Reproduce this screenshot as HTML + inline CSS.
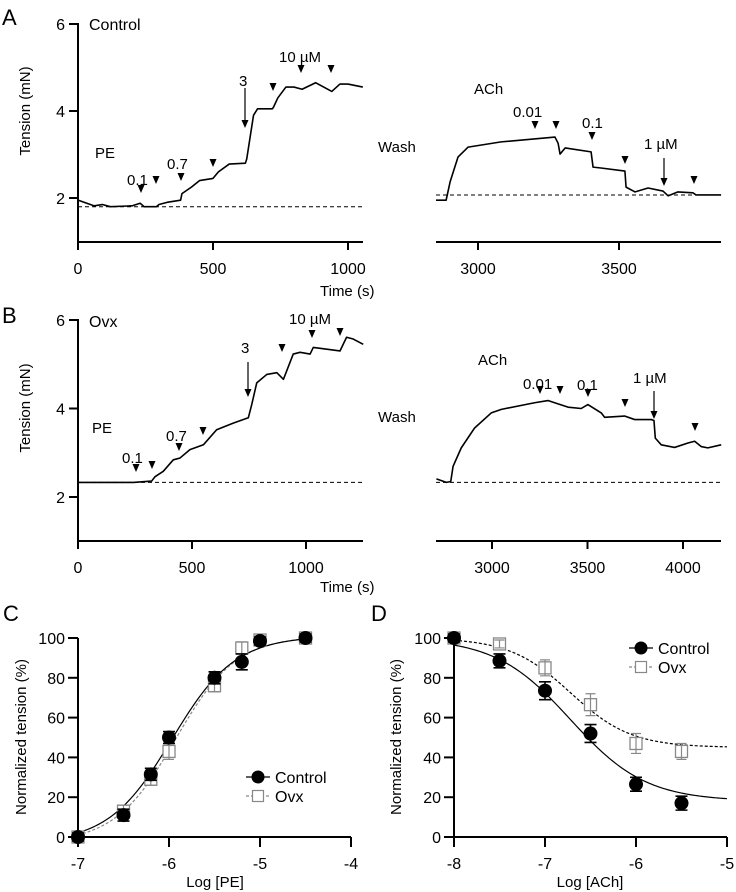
<!DOCTYPE html>
<html><head><meta charset="utf-8">
<style>
body{margin:0;background:#fff;}
svg{display:block;font-family:"Liberation Sans",Arial,sans-serif;}
</style></head>
<body>
<svg id="fig" width="736" height="892" viewBox="0 0 736 892" xmlns="http://www.w3.org/2000/svg">
<g id="static" font-size="15" fill="#000">
<text x="2" y="25" font-size="22">A</text>
<text x="2" y="323" font-size="22">B</text>
<text x="3" y="621" font-size="22">C</text>
<text x="371" y="621" font-size="22">D</text>
<text x="89" y="30" font-size="16">Control</text>
<text x="89" y="327" font-size="16">Ovx</text>
<text x="320" y="296" font-size="15">Time (s)</text>
<text x="320" y="592" font-size="15">Time (s)</text>
<text transform="translate(30,111) rotate(-90)" text-anchor="middle" font-size="15">Tension (mN)</text>
<text transform="translate(30,408) rotate(-90)" text-anchor="middle" font-size="15">Tension (mN)</text>
<text transform="translate(26,737) rotate(-90)" text-anchor="middle" font-size="15">Normalized tension (%)</text>
<text transform="translate(401,737) rotate(-90)" text-anchor="middle" font-size="15">Normalized tension (%)</text>
<text x="215" y="887" text-anchor="middle" font-size="15">Log [PE]</text>
<text x="590" y="887" text-anchor="middle" font-size="15">Log [ACh]</text>
</g>
</svg>
<script>
// ---- trace data (time s, tension mN) ----
const aLeftT=[0,60,90,120,200,230,245,290,300,330,380,385,420,450,500,520,560,620,625,640,650,665,720,725,740,770,800,830,880,940,970,1000,1055];
const aLeftV=[1.95,1.82,1.85,1.8,1.82,1.88,1.8,1.8,1.85,1.9,1.95,2.1,2.25,2.4,2.45,2.6,2.78,2.8,2.9,3.5,3.9,4.05,4.05,4.1,4.3,4.55,4.55,4.5,4.65,4.45,4.62,4.62,4.55];
const aRightT=[2851,2887,2901,2929,2965,3082,3273,3284,3291,3309,3401,3408,3436,3521,3525,3557,3603,3656,3674,3709,3762,3773,3862];
const aRightV=[1.95,1.95,2.37,2.94,3.17,3.29,3.40,3.26,3.01,3.15,3.06,2.71,2.69,2.62,2.25,2.14,2.23,2.16,2.05,2.14,2.12,2.07,2.07];
const bLeftT=[0,243,323,338,374,418,447,491,550,608,681,747,762,784,828,872,901,944,974,1018,1032,1091,1149,1178,1207,1251];
const bLeftV=[2.33,2.33,2.36,2.46,2.58,2.84,2.88,3.07,3.18,3.52,3.67,3.79,4.09,4.58,4.77,4.81,4.66,5.23,5.27,5.23,5.38,5.34,5.30,5.61,5.57,5.45];
const bRightT=[2709,2761,2784,2796,2839,2909,2996,3049,3223,3293,3328,3398,3467,3502,3572,3590,3694,3747,3834,3848,3855,3886,3956,4026,4061,4095,4130,4200];
const bRightV=[2.41,2.33,2.35,2.69,3.11,3.56,3.90,3.98,4.13,4.18,4.13,4.03,4.00,4.09,3.90,3.80,3.83,3.75,3.75,3.73,3.33,3.18,3.12,3.22,3.26,3.14,3.11,3.18];
const yTicks=[2,4,6];
const aLeftXTicks=[0,500,1000];const aRightXTicks=[3000,3500];
const bLeftXTicks=[0,500,1000];const bRightXTicks=[3000,3500,4000];
// ---- dose-response data ----
const cX=[-7,-6.5,-6.2,-6,-5.5,-5.2,-5,-4.5];
const cCtrl=[0,11,31.5,50,80,88,98.5,100];
const cCtrlErr=[2,3,3,3,3,4,2,2];
const cOvx=[0,13,29,43,76,95,99,100];
const cOvxErr=[2,3,3,4,3,3,2,2];
const dX=[-8,-7.5,-7,-6.5,-6,-5.5];
const dCtrl=[100,88.5,73.5,52,26.5,17];
const dCtrlErr=[2,3.5,4.5,4.5,3.5,3.5];
const dOvx=[100,97,85,66.5,47,43];
const dOvxErr=[2,2,4,5.5,5,4];
const pctTicks=[0,20,40,60,80,100];
const cXTicks=[-7,-6,-5,-4];const dXTicks=[-8,-7,-6,-5];
// fitted Hill parameters [bottom, top, logEC50, hill]
const cCtrlFit=[-3,101,-5.97,1.25];const cOvxFit=[-3,101,-5.93,1.3];
const dCtrlFit=[18,100,-6.72,-1.05];const dOvxFit=[45,100,-6.72,-1.3];

const NS='http://www.w3.org/2000/svg';
const svg=document.getElementById('fig');
function mk(tag,attrs,parent){const e=document.createElementNS(NS,tag);for(const k in attrs)e.setAttribute(k,attrs[k]);(parent||svg).appendChild(e);return e;}
function lin(d0,d1,r0,r1){return v=>r0+(v-d0)*(r1-r0)/(d1-d0);}
function txt(x,y,s,opts,parent){const t=mk('text',Object.assign({x:x,y:y,'font-size':16},opts||{}),parent);t.textContent=s;return t;}

// ---- trace panels ----
function tracePanel(name,T,V,sx,sy,x0,x1,yb,baseV,xticks,withY){
  const g=mk('g',{});
  
  
  const ax=mk('path',{d:'M'+x0+' '+yb+'H'+x1+(withY?'M'+x0+' '+yb+'V'+(sy(6)-1):''),stroke:'#000','stroke-width':2,fill:'none'},g);
  
  
  xticks.forEach(t=>{const x=sx(t);mk('line',{x1:x,x2:x,y1:yb,y2:yb+8,stroke:'#000','stroke-width':2},g);
    const l=txt(x,yb+32,String(t),{'text-anchor':'middle'},g);
    
    });
  if(withY){yTicks.forEach(v=>{const y=sy(v);mk('line',{x1:x0-9,x2:x0,y1:y,y2:y,stroke:'#000','stroke-width':2},g);
    const l=txt(x0-13,y+6,String(v),{'text-anchor':'end'},g);
    
    });}
  const bl=mk('line',{x1:x0,x2:x1,y1:sy(baseV),y2:sy(baseV),stroke:'#000','stroke-width':1,'stroke-dasharray':'4,3'},g);
  
  
  const tr=mk('polyline',{points:T.map((t,i)=>sx(t)+','+sy(V[i])).join(' '),fill:'none',stroke:'#000','stroke-width':1.6,'stroke-linejoin':'round'},g);
  
  
}
const syA=lin(2,6,198,24);
tracePanel('trace-control-pe',aLeftT,aLeftV,lin(0,1000,78,348),syA,78,363,242,1.8,aLeftXTicks,true);
tracePanel('trace-control-ach',aRightT,aRightV,lin(3000,3500,478,619),syA,436,721,242,2.07,aRightXTicks,false);
const syB=lin(2,6,497,320);
tracePanel('trace-ovx-pe',bLeftT,bLeftV,lin(0,1000,78,306),syB,78,363,541,2.33,bLeftXTicks,true);
tracePanel('trace-ovx-ach',bRightT,bRightV,lin(3000,4000,492,683),syB,436,721,541,2.33,bRightXTicks,false);

// annotations
const ann=mk('g',{'font-size':15});


function head(x,y){const p=mk('path',{d:`M${x-3.5} ${y-8}L${x+3.5} ${y-8}L${x} ${y}Z`,fill:'#000'},ann);
  
  }
function arrow(x,y0,y1){mk('line',{x1:x,x2:x,y1:y0,y2:y1-6,stroke:'#000','stroke-width':1.2},ann);head(x,y1);}
[[141,193],[156,184],[181,181],[213,167],[273,91],[301,73],[331,73]].forEach(p=>head(p[0],p[1]));
arrow(245,88,128);
[[535,129],[556,129],[592,140],[625,164],[694,184]].forEach(p=>head(p[0],p[1]));
arrow(664,158,186);
[[136,472],[152,469],[179,451],[203,435],[282,352],[312,338],[340,336]].forEach(p=>head(p[0],p[1]));
arrow(248,362,397);
[[540,394],[560,394],[588,397],[625,407],[695,431]].forEach(p=>head(p[0],p[1]));
arrow(654,391,419);
[['PE',95,158],['0.1',127,185],['0.7',167,169],['3',239,86],['10 µM',279,62],
 ['ACh',474,94],['Wash',378,152],['0.01',513,117],['0.1',582,128],['1 µM',644,149],
 ['PE',92,433],['0.1',122,463],['0.7',166,441],['3',241,353],['10 µM',289,324],
 ['ACh',478,365],['Wash',378,422],['0.01',523,389],['0.1',577,390],['1 µM',633,383]].forEach(a=>{
  const t=txt(a[1],a[2],a[0],{'font-size':15},ann);
  
  });

// ---- dose-response panels ----
function hill(p,x){return p[0]+(p[1]-p[0])/(1+Math.pow(10,(p[2]-x)*p[3]));}
function drPanel(name,X,ctrl,ctrlE,ovx,ovxE,fitC,fitO,xticks,x0,x1,sx,legX,legY,fx0,fx1){
  const sy=lin(0,100,837,638);
  const g=mk('g',{});
  
  
  const ax=mk('path',{d:`M${x0} 638V837H${x1}`,stroke:'#000','stroke-width':2,fill:'none'},g);
  
  
  pctTicks.forEach(v=>{const y=sy(v);mk('line',{x1:x0-10,x2:x0,y1:y,y2:y,stroke:'#000','stroke-width':2},g);
    const l=txt(x0-13,y+6,String(v),{'text-anchor':'end'},g);
    
    });
  xticks.forEach(v=>{const x=sx(v);mk('line',{x1:x,x2:x,y1:837,y2:847,stroke:'#000','stroke-width':2},g);
    const l=txt(x,869,String(v),{'text-anchor':'middle'},g);
    
    });
  function curve(p,dash,col,nm){const pts=[];for(let i=0;i<=120;i++){const x=fx0+(fx1-fx0)*i/120;pts.push(sx(x)+','+Math.min(837,sy(hill(p,x))));}
    const c=mk('polyline',{points:pts.join(' '),fill:'none',stroke:col,'stroke-width':1.2,'stroke-dasharray':dash},g);
    
    }
  const ovxCol=name==='pe-dose-response'?'#888':'#000';
  curve(fitO,'3,2',ovxCol,'ovx-fit-curve');curve(fitC,'none','#000','control-fit-curve');
  X.forEach((x,i)=>{const px=sx(x),py=sy(ovx[i]);
    const s=mk('g',{},g);
    
    
    mk('rect',{x:px-6,y:py-6,width:12,height:12,fill:'#fff',stroke:'#888','stroke-width':1.3},s);
    const e1=sy(ovx[i]+ovxE[i]),e2=sy(ovx[i]-ovxE[i]);
    mk('path',{d:`M${px} ${e1}V${e2}M${px-5} ${e1}H${px+5}M${px-5} ${e2}H${px+5}`,stroke:'#888','stroke-width':1.2,fill:'none'},s);});
  X.forEach((x,i)=>{const px=sx(x),py=sy(ctrl[i]);
    const s=mk('g',{},g);
    
    
    const e1=sy(ctrl[i]+ctrlE[i]),e2=sy(ctrl[i]-ctrlE[i]);
    mk('path',{d:`M${px} ${e1}V${e2}M${px-6} ${e1}H${px+6}M${px-6} ${e2}H${px+6}`,stroke:'#000','stroke-width':1.6,fill:'none'},s);
    mk('circle',{cx:px,cy:py,r:7,fill:'#000'},s);});
  const lg=mk('g',{},g);
  
  
  const l1=mk('g',{},lg);
  
  
  mk('line',{x1:legX-12,x2:legX+12,y1:legY,y2:legY,stroke:'#000','stroke-width':1.2},l1);
  mk('circle',{cx:legX,cy:legY,r:6.5,fill:'#000'},l1);
  txt(legX+17,legY+6,'Control',{},l1);
  const l2=mk('g',{},lg);
  
  
  mk('line',{x1:legX-12,x2:legX+12,y1:legY+19,y2:legY+19,stroke:'#888','stroke-width':1.2,'stroke-dasharray':'3,2'},l2);
  mk('rect',{x:legX-5.5,y:legY+13.5,width:11,height:11,fill:'#fff',stroke:'#888','stroke-width':1.2},l2);
  txt(legX+17,legY+25,'Ovx',{},l2);
}
drPanel('pe-dose-response',cX,cCtrl,cCtrlErr,cOvx,cOvxErr,cCtrlFit,cOvxFit,cXTicks,78,351,lin(-7,-4,78,351),258,777,-7,-4.5);
drPanel('ach-dose-response',dX,dCtrl,dCtrlErr,dOvx,dOvxErr,dCtrlFit,dOvxFit,dXTicks,454,727,lin(-8,-5,454,727),641,648,-8,-5);
</script>
</body></html>
